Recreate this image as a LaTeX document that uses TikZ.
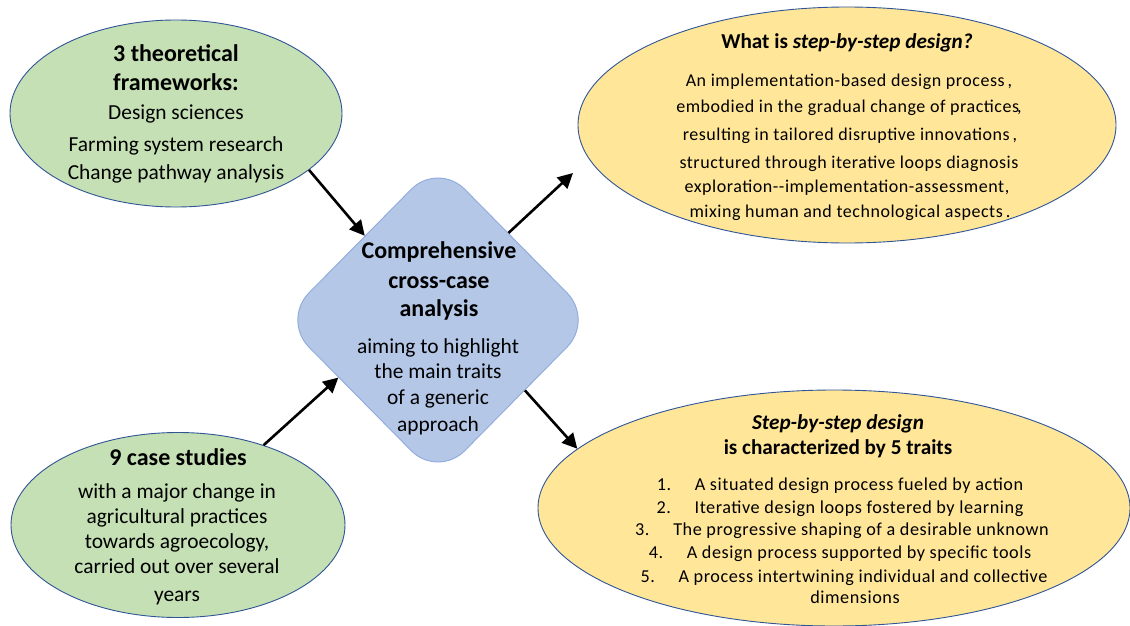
\documentclass[tikz,border=0pt]{standalone}
\usepackage{fontspec}
\setmainfont{Carlito}
\usetikzlibrary{shapes.geometric,arrows.meta}
\definecolor{gfill}{HTML}{C5E0B4}
\definecolor{yfill}{HTML}{FFE699}
\definecolor{bfill}{HTML}{B4C7E7}
\definecolor{oedge}{HTML}{2F5597}
\definecolor{dedge}{HTML}{8FAADC}
\begin{document}
\begin{tikzpicture}[x=1pt,y=-1pt,
  oval/.style={ellipse, draw=oedge, line width=0.9pt, inner sep=0pt},
  dia/.style={diamond, draw=dedge, fill=bfill, line width=0.9pt, inner sep=0pt, rounded corners=38pt},
  arr/.style={line width=2.6pt, -{Triangle[length=15pt,width=15pt]}},
  ln/.style={inner sep=0pt, anchor=base, text=black},
  bt/.style={ln, font=\fontsize{24}{28}\selectfont\bfseries},
  rt/.style={ln, font=\fontsize{21.4}{25}\selectfont},
  bs/.style={ln, font=\fontsize{21.2}{24}\selectfont\bfseries},
  rs/.style={ln, font=\fontsize{18}{20}\selectfont\addfontfeature{LetterSpace=3}},
  rb/.style={ln, font=\fontsize{18.2}{21}\selectfont\addfontfeature{LetterSpace=3}}]
\useasboundingbox (0,0) rectangle (1130,626);

% shapes
\node[oval, fill=gfill, minimum width=332pt, minimum height=187pt] (tl) at (176,113.5) {};
\node[oval, fill=gfill, minimum width=334pt, minimum height=185pt] (bl) at (178,525) {};
\node[oval, fill=yfill, minimum width=538pt, minimum height=236pt] (tr) at (847,125) {};
\node[oval, fill=yfill, minimum width=592pt, minimum height=236pt] (br) at (834,508) {};
\node[dia, minimum width=312pt, minimum height=316pt] (dm) at (438,320) {};

% top-left text
\node[bt] (tl1) at (176,62) {3 theoretical};
\node[bt] (tl2) at (176,90) {frameworks:};
\node[rt] (tl3) at (176,119) {Design sciences};
\node[rt] (tl4) at (176,151) {Farming system research};
\node[rt] (tl5) at (176,179) {Change pathway analysis};

% centre text
\node[bt] (dm1) at (439,258) {Comprehensive};
\node[bt] (dm2) at (439,288) {cross-case};
\node[bt] (dm3) at (439,316) {analysis};
\node[rt] (dm4) at (438,353) {aiming to highlight};
\node[rt] (dm5) at (438,378) {the main traits};
\node[rt] (dm6) at (438,404) {of a generic};
\node[rt] (dm7) at (438,431) {approach};

% bottom-left text
\node[bt] (bl1) at (178,465) {9 case studies};
\node[rt] (bl2) at (177,498) {with a major change in};
\node[rt] (bl3) at (177,523) {agricultural practices};
\node[rt] (bl4) at (177,548) {towards agroecology,};
\node[rt] (bl5) at (177,573) {carried out over several};
\node[rt] (bl6) at (177,601) {years};

% top-right text
\node[bs] (tr1) at (847,49) {What is \textit{step-by-step design?}};
\node[rs] (tr2) at (849,87) {An implementation-based design process\,,};
\node[rs] (tr3) at (849,113) {embodied in the gradual change of practices\kern-2pt,};
\node[rs] (tr4) at (850,140) {resulting in tailored disruptive innovations\,,};
\node[rs] (tr5) at (849,168) {structured through iterative loops diagnosis};
\node[rs] (tr6) at (847,192) {exploration{-}{-}implementation-assessment,};
\node[rs] (tr7) at (850,217) {mixing human and technological aspects\,.};

% bottom-right text
\node[bs] (br1) at (838,429) {\textit{Step-by-step design}};
\node[bs] (br2) at (838,454) {is characterized by 5 traits};
\node[rb] (br3) at (840,490) {1.\hspace{1.3em}A situated design process fueled by action};
\node[rb] (br4) at (840,513) {2.\hspace{1.3em}Iterative design loops fostered by learning};
\node[rb] (br5) at (842,535) {3.\hspace{1.3em}The progressive shaping of a desirable unknown};
\node[rb] (br6) at (840,558) {4.\hspace{1.3em}A design process supported by specific tools};
\node[rb] (br7) at (844,582) {5.\hspace{1.3em}A process intertwining individual and collective};
\node[rb] (br8) at (855,603) {dimensions};

% connectors
\coordinate (trtip) at (573,173);
\draw[arr] (tl.-23) -- (dm.131);
\draw[arr] (bl.43) -- (dm.210);
\draw[arr] (dm.51) -- (trtip);
\draw[arr] (dm.-39) -- (br.167);
\end{tikzpicture}
\end{document}
